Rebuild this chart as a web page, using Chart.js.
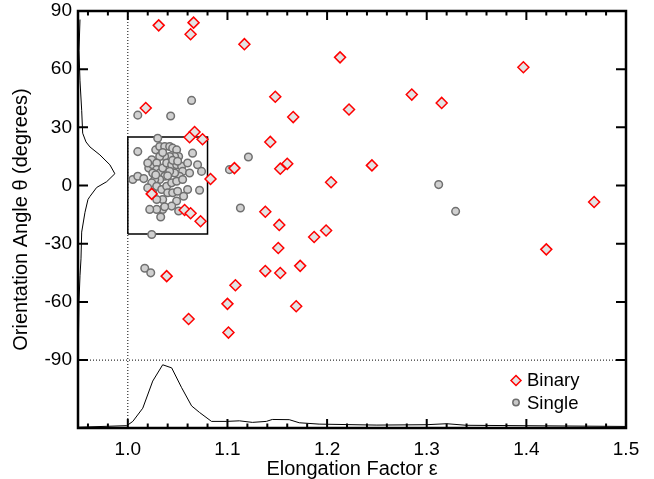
<!DOCTYPE html>
<html>
<head>
<meta charset="utf-8">
<script src="https://cdn.jsdelivr.net/npm/chart.js@4.4.0/dist/chart.umd.min.js"></script>
<style>
  html, body { margin: 0; padding: 0; background: #fff; }
</style>
</head>
<body>
<canvas id="elongChart" width="654" height="479"></canvas>
<script>
    // Binary: [elongation, angle]
    const binaryPoints = [
      [1.031, 82.6], [1.066, 84], [1.063, 78], [1.117, 72.9], [1.018, 40],
      [1.148, 45.8], [1.166, 35.3], [1.143, 22.5], [1.067, 27.6], [1.062, 24.9],
      [1.075, 23.9], [1.160, 11.2], [1.153, 8.7], [1.107, 9], [1.083, 3.4],
      [1.024, -4.3], [1.057, -12.6], [1.063, -14.3], [1.073, -18.4], [1.138, -13.5],
      [1.152, -20.3], [1.204, 1.7], [1.213, 66.1], [1.222, 39.2], [1.285, 46.9],
      [1.315, 42.6], [1.397, 61], [1.245, 10.4], [1.468, -8.5], [1.199, -23.2],
      [1.187, -26.5], [1.151, -32.2], [1.138, -44.1], [1.153, -45.1], [1.173, -41.4],
      [1.039, -46.7], [1.108, -51.4], [1.100, -61], [1.061, -68.8], [1.101, -75.8],
      [1.169, -62.2], [1.420, -32.9]
    ];

    // Single: [elongation, angle]
    const singlePoints = [
      [1.010, 36.3], [1.043, 35.9], [1.064, 43.9], [1.121, 14.7], [1.102, 8.2],
      [1.113, -11.6], [1.024, -25.2], [1.017, -42.6], [1.023, -45], [1.312, 0.5],
      [1.329, -13.3],
      [1.030, 24.4], [1.010, 17.5], [1.065, 16.7], [1.005, 3.1], [1.010, 4.8],
      [1.016, 3.6], [1.021, 9], [1.025, 10.7], [1.024, 13.3], [1.028, 18.4],
      [1.032, 20.1], [1.037, 20.1], [1.042, 20.1], [1.045, 19.3], [1.049, 18.4],
      [1.051, 15], [1.047, 15], [1.042, 15], [1.037, 15], [1.032, 15],
      [1.029, 11.6], [1.029, 8.2], [1.032, 6.5], [1.035, 9], [1.039, 11.6],
      [1.044, 10.7], [1.049, 10.7], [1.054, 9.9], [1.055, 7.3], [1.052, 4.8],
      [1.047, 6.5], [1.042, 7.3], [1.037, 4.8], [1.032, 3.1], [1.027, 3.1],
      [1.024, 1.4], [1.029, -0.4], [1.034, -2], [1.039, -0.4], [1.044, 1.4],
      [1.049, 2.2], [1.055, 3.1], [1.060, 11.6], [1.070, 10.7], [1.074, 7.3],
      [1.062, 6.5], [1.060, -2], [1.072, -2.4], [1.056, -5.5], [1.049, -8],
      [1.044, -10.6], [1.035, -7.2], [1.029, -7.2], [1.035, -12.3], [1.029, -12.3],
      [1.022, -12.3], [1.033, -16.2], [1.040, -3.7], [1.025, -3.7], [1.020, -1.2],
      [1.025, 6.5], [1.020, 11.6], [1.045, -3.7], [1.050, -2.9], [1.051, -13.1],
      [1.037, -10.9], [1.045, 13], [1.035, 17], [1.040, 5], [1.050, 12.5],
      [1.028, 5.5]
    ];

    // Distribusi sudut (kurva kiri)
    const leftCurveEps = [0.952, 0.951, 0.952, 0.9537, 0.9547, 0.958, 0.962, 0.972, 0.982, 0.987,
      0.9788, 0.9687, 0.962, 0.960, 0.957, 0.9537, 0.953, 0.952, 0.951, 0.9505];
    const leftCurveTheta = [85.6, 69.5, 54, 38.8, 27, 22.5, 19.9, 15.8, 10.7, 6.1,
      2, -1, -5.6, -7.2, -13.8, -24, -37.8, -46.5, -59.8, -77];

    // Distribusi elongasi (kurva bawah)
    const bottomCurveEps = [0.95, 0.999, 1.005, 1.015, 1.025, 1.035, 1.044, 1.054, 1.064, 1.072,
      1.084, 1.099, 1.112, 1.125, 1.139, 1.145, 1.162, 1.172, 1.192, 1.25, 1.30, 1.32, 1.34, 1.5];
    const bottomCurveTheta = [-124.6, -123.8, -121.6, -114.8, -100.8, -92.4, -94, -104.2, -113.6, -117,
      -121.6, -121.6, -121.3, -122.1, -121.6, -120.6, -120.7, -122.3, -123, -123.5, -123.3, -122.8, -123.6, -124.2];

    // Kotak seleksi
    const boxEps = [1.0, 1.0, 1.08, 1.08, 1.0];
    const boxTheta = [-25, 25, 25, -25, -25];

    // Tick
    const xMajorTicks = [1.0, 1.1, 1.2, 1.3, 1.4, 1.5];
    const xMinorTicks = [0.96, 0.98, 1.02, 1.04, 1.06, 1.08, 1.12, 1.14, 1.16, 1.18,
      1.22, 1.24, 1.26, 1.28, 1.32, 1.34, 1.36, 1.38, 1.42, 1.44, 1.46, 1.48];
    const yTicks = [90, 60, 30, 0, -30, -60, -90];

    const toXY = (xs, ys) => xs.map((x, i) => ({ x: x, y: ys[i] }));
    const pairsToXY = pts => pts.map(p => ({ x: p[0], y: p[1] }));

    Chart.defaults.font.family = '"Liberation Sans", Arial, Helvetica, sans-serif';
    Chart.defaults.color = '#000';

    // Frame, tick ke dalam, legenda
    const framePlugin = {
      id: 'frame',
      afterDatasetsDraw(chart) {
        const { ctx, chartArea: a, scales } = chart;
        const xs = scales.x, ys = scales.y;
        ctx.save();
        ctx.strokeStyle = '#000';
        ctx.lineWidth = 2;
        ctx.beginPath();
        xMajorTicks.forEach(v => {
          const px = xs.getPixelForValue(v);
          ctx.moveTo(px, a.bottom); ctx.lineTo(px, a.bottom - 9);
          ctx.moveTo(px, a.top); ctx.lineTo(px, a.top + 9);
        });
        xMinorTicks.forEach(v => {
          const px = xs.getPixelForValue(v);
          ctx.moveTo(px, a.bottom); ctx.lineTo(px, a.bottom - 4.5);
          ctx.moveTo(px, a.top); ctx.lineTo(px, a.top + 4.5);
        });
        yTicks.forEach(v => {
          const py = ys.getPixelForValue(v);
          ctx.moveTo(a.left, py); ctx.lineTo(a.left + 10, py);
          ctx.moveTo(a.right, py); ctx.lineTo(a.right - 10, py);
        });
        ctx.stroke();
        ctx.lineWidth = 2.5;
        ctx.strokeRect(a.left, a.top, a.right - a.left, a.bottom - a.top);

        // legenda
        const lx = 516, ly1 = 380.5, ly2 = 402.5;
        ctx.lineWidth = 1.5;
        ctx.fillStyle = '#e3e3e3';
        ctx.strokeStyle = '#ff0000';
        ctx.beginPath();
        ctx.moveTo(lx - 5, ly1); ctx.lineTo(lx, ly1 - 5);
        ctx.lineTo(lx + 5, ly1); ctx.lineTo(lx, ly1 + 5);
        ctx.closePath();
        ctx.fill(); ctx.stroke();
        ctx.fillStyle = '#c8c8c8';
        ctx.strokeStyle = '#6e6e6e';
        ctx.beginPath();
        ctx.arc(lx, ly2, 3.2, 0, Math.PI * 2);
        ctx.fill(); ctx.stroke();
        ctx.fillStyle = '#000';
        ctx.font = '18.5px "Liberation Sans", Arial, sans-serif';
        ctx.textBaseline = 'alphabetic';
        ctx.textAlign = 'left';
        ctx.fillText('Binary', 527, 386);
        ctx.fillText('Single', 527, 409);
        ctx.restore();
      }
    };

    const lineStyle = {
      showLine: true,
      pointRadius: 0,
      pointHoverRadius: 0,
      borderColor: '#000',
      borderWidth: 1,
      fill: false,
      tension: 0,
      order: 2
    };

    const ctxEl = document.getElementById('elongChart').getContext('2d');
    const elongChart = new Chart(ctxEl, {
      type: 'scatter',
      data: {
        datasets: [
          {
            label: 'Binary',
            data: pairsToXY(binaryPoints),
            pointStyle: 'rectRot',
            pointRadius: 5.5,
            backgroundColor: '#e3e3e3',
            borderColor: '#ff0000',
            borderWidth: 1.5,
            order: 0
          },
          {
            label: 'Single',
            data: pairsToXY(singlePoints),
            pointStyle: 'circle',
            pointRadius: 3.8,
            backgroundColor: '#d0d0d0',
            borderColor: '#707070',
            borderWidth: 1.5,
            order: 1
          },
          Object.assign({ label: 'box', data: toXY(boxEps, boxTheta) }, lineStyle, { borderWidth: 1.5 }),
          Object.assign({ label: 'left', data: toXY(leftCurveEps, leftCurveTheta) }, lineStyle),
          Object.assign({ label: 'bottom', data: toXY(bottomCurveEps, bottomCurveTheta) }, lineStyle),
          Object.assign({ label: 'vline', data: toXY([1.0, 1.0], [-125, 90]) }, lineStyle, { borderDash: [1, 2] }),
          Object.assign({ label: 'hline', data: toXY([0.95, 1.5], [-90, -90]) }, lineStyle, { borderDash: [1, 2] })
        ]
      },
      options: {
        responsive: false,
        animation: false,
        layout: { padding: { top: 11, right: 28, left: 0, bottom: 0 } },
        plugins: {
          legend: { display: false },
          tooltip: { enabled: false }
        },
        scales: {
          x: {
            type: 'linear',
            min: 0.95,
            max: 1.5,
            grid: { display: false, drawTicks: false },
            border: { display: false },
            afterBuildTicks: s => { s.ticks = xMajorTicks.map(v => ({ value: v })); },
            afterFit: s => { s.height = 51; },
            ticks: {
              padding: 12,
              font: { size: 19, lineHeight: 1 },
              maxRotation: 0,
              callback: v => Number(v).toFixed(1)
            },
            title: {
              display: true,
              text: 'Elongation Factor ε',
              font: { size: 20, lineHeight: 1 },
              padding: { top: 0, bottom: 0 }
            }
          },
          y: {
            type: 'linear',
            min: -125,
            max: 90,
            grid: { display: false, drawTicks: false },
            border: { display: false },
            afterBuildTicks: s => { s.ticks = yTicks.map(v => ({ value: v })); },
            afterFit: s => { s.width = 78; s.paddingTop = 0; s.paddingBottom = 0; },
            ticks: {
              padding: 6,
              font: { size: 19, lineHeight: 1 },
              callback: v => String(v)
            },
            title: {
              display: true,
              text: 'Orientation Angle θ (degrees)',
              font: { size: 20, lineHeight: 1.2 },
              padding: { top: 9, bottom: 0 }
            }
          }
        }
      },
      plugins: [framePlugin]
    });
</script>
</body>
</html>
